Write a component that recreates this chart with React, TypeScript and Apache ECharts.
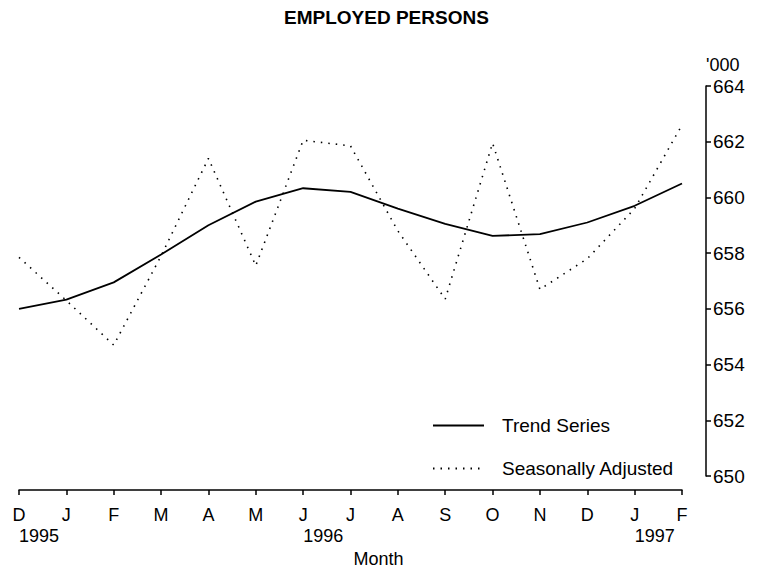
import React, { useEffect, useRef } from "react";
import * as echarts from "echarts";

const months = ["D", "J", "F", "M", "A", "M", "J", "J", "A", "S", "O", "N", "D", "J", "F"];
const years = ["1995", "", "", "", "", "", "1996", "", "", "", "", "", "", "1997", ""];
const trend = [656.0, 656.33, 656.95, 657.95, 659.0, 659.85, 660.33, 660.2, 659.6, 659.05, 658.62, 658.68, 659.1, 659.7, 660.5];
const seasonal = [657.85, 656.3, 654.7, 657.9, 661.4, 657.55, 662.05, 661.85, 658.8, 656.35, 661.95, 656.7, 657.8, 659.6, 662.6];
const yMin = 650;
const yMax = 664;
const yStep = 2;

const FONT = "'Liberation Sans', Arial, Helvetica, sans-serif";

export default function App() {
  const ref = useRef<HTMLDivElement>(null);
  useEffect(() => {
    if (!ref.current) return;
    const chart = echarts.init(ref.current, undefined, { renderer: "svg" });
    chart.setOption({
      animation: false,
      backgroundColor: "#ffffff",
      textStyle: { fontFamily: FONT, color: "#000" },
      title: {
        text: "EMPLOYED PERSONS",
        left: 284,
        top: 8,
        padding: 0,
        textStyle: { fontFamily: FONT, fontSize: 19, fontWeight: "bold", color: "#000" },
      },
      legend: {
        orient: "vertical",
        left: 432,
        top: 416,
        padding: 0,
        itemWidth: 51,
        itemHeight: 16,
        itemGap: 24,
        itemStyle: { opacity: 0 },
        textStyle: { fontFamily: FONT, fontSize: 19, color: "#000", padding: [0, 0, 0, 13] },
        data: ["Trend Series", "Seasonally Adjusted"],
      },
      grid: { left: 19, right: 79, top: 86, bottom: 98, outerBoundsMode: "none", containLabel: false },
      xAxis: [
        {
          type: "category",
          data: months,
          boundaryGap: false,
          position: "bottom",
          offset: 14,
          axisLine: { lineStyle: { color: "#000", width: 1.5 } },
          axisTick: { show: true, length: 5, lineStyle: { color: "#000", width: 1.5 } },
          axisLabel: { color: "#000", fontFamily: FONT, fontSize: 18, margin: 16, interval: 0 },
          name: "Month",
          nameLocation: "middle",
          nameGap: 60,
          nameMoveOverlap: false,
          nameTextStyle: { color: "#000", fontFamily: FONT, fontSize: 18, padding: [0, 0, 0, 56] },
          splitLine: { show: false },
        },
        {
          type: "category",
          data: years,
          boundaryGap: false,
          position: "bottom",
          offset: 14,
          axisLine: { show: false },
          axisTick: { show: false },
          axisLabel: { color: "#000", fontFamily: FONT, fontSize: 18, margin: 37, interval: 0, align: "left", showMaxLabel: true, showMinLabel: true },
          splitLine: { show: false },
        },
      ],
      yAxis: {
        type: "value",
        position: "right",
        offset: 24,
        min: yMin,
        max: yMax,
        interval: yStep,
        name: "'000",
        nameLocation: "end",
        nameGap: 12,
        nameTextStyle: { color: "#000", fontFamily: FONT, fontSize: 18, align: "left" },
        axisLine: { show: true, lineStyle: { color: "#000", width: 1.5 } },
        axisTick: { show: true, length: 5, inside: false, lineStyle: { color: "#000", width: 1.5 } },
        axisLabel: { color: "#000", fontFamily: FONT, fontSize: 19, margin: 7 },
        splitLine: { show: false },
      },
      series: [
        {
          name: "Trend Series",
          type: "line",
          data: trend,
          symbol: "none",
          smooth: false,
          lineStyle: { color: "#000", width: 1.8, type: "solid" },
          itemStyle: { color: "#000" },
        },
        {
          name: "Seasonally Adjusted",
          type: "line",
          data: seasonal,
          symbol: "none",
          lineStyle: { color: "#000", width: 1.6, type: [1.5, 6] },
          itemStyle: { color: "#000" },
        },
      ],
    });
    return () => chart.dispose();
  }, []);
  return <div ref={ref} style={{ width: 761, height: 574, margin: -8 }} />;
}
